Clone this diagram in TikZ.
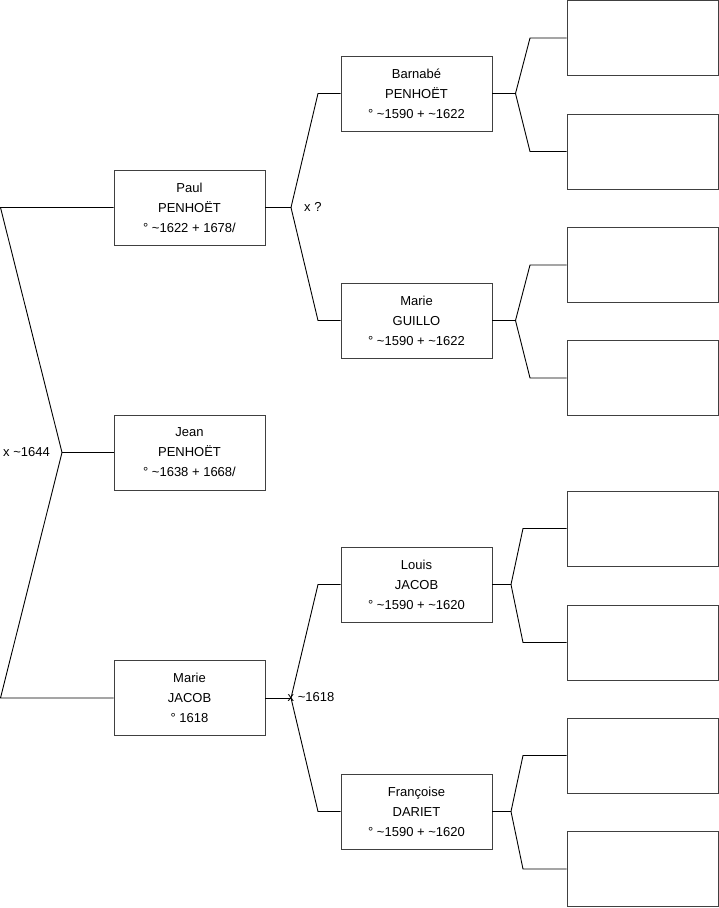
\documentclass[tikz,border=0pt]{standalone}
\usepackage{fontspec}
\setmainfont{Liberation Sans}
\begin{document}
\begin{tikzpicture}[x=1pt,y=-1pt,
  person/.style={draw=black!75,line width=0.9pt,minimum width=151pt,minimum height=75pt,inner sep=0pt,align=center,font=\fontsize{13}{20}\selectfont},
  link/.style={draw=black,line width=0.9pt},
  lbl/.style={font=\fontsize{13}{15}\selectfont,inner sep=0pt,anchor=west}]
\useasboundingbox (0,0) rectangle (719,908);
% generation 1
\node[person] (paul) at (189.5,207.5) {Paul\\PENHOËT\\° \textasciitilde1622 + 1678/};
\node[person] (jean) at (189.5,452.5) {Jean\\PENHOËT\\° \textasciitilde1638 + 1668/};
\node[person] (mariej) at (189.5,698) {Marie\\JACOB\\° 1618};
% generation 2
\node[person] (barnabe) at (416.5,93.5) {Barnabé\\PENHOËT\\° \textasciitilde1590 + \textasciitilde1622};
\node[person] (marieg) at (416.5,320.5) {Marie\\GUILLO\\° \textasciitilde1590 + \textasciitilde1622};
\node[person] (louis) at (416.5,584.5) {Louis\\JACOB\\° \textasciitilde1590 + \textasciitilde1620};
\node[person] (francoise) at (416.5,811.5) {Françoise\\DARIET\\° \textasciitilde1590 + \textasciitilde1620};
% generation 3
\node[person] (g1) at (642.5,38) {};
\node[person] (g2) at (642.5,151.5) {};
\node[person] (g3) at (642.5,265) {};
\node[person] (g4) at (642.5,378) {};
\node[person] (g5) at (642.5,528.5) {};
\node[person] (g6) at (642.5,642.5) {};
\node[person] (g7) at (642.5,755.5) {};
\node[person] (g8) at (642.5,869) {};
% fork coordinates
\coordinate (f0) at (62,452.5);
\coordinate (f0a) at (0.5,207.5);
\coordinate (f0b) at (0.5,698);
\coordinate (fp) at (291,207.5);
\coordinate (fpa) at (318,93.5);
\coordinate (fpb) at (318,320.5);
\coordinate (fm) at (291,698);
\coordinate (fma) at (318,584.5);
\coordinate (fmb) at (318,811.5);
\coordinate (fb) at (515.5,93.5);
\coordinate (fba) at (530,38);
\coordinate (fbb) at (530,151.5);
\coordinate (fg) at (515.5,320.5);
\coordinate (fga) at (530,265);
\coordinate (fgb) at (530,378);
\coordinate (fl) at (511,584.5);
\coordinate (fla) at (523,528.5);
\coordinate (flb) at (523,642.5);
\coordinate (ff) at (511,811.5);
\coordinate (ffa) at (523,755.5);
\coordinate (ffb) at (523,869);
% connectors
\draw[link] (paul.west) -- (f0a) -- (f0) -- (f0b) -- (mariej.west);
\draw[link] (f0) -- (jean.west);
\draw[link] (paul.east) -- (fp);
\draw[link] (barnabe.west) -- (fpa) -- (fp) -- (fpb) -- (marieg.west);
\draw[link] (mariej.east) -- (fm);
\draw[link] (louis.west) -- (fma) -- (fm) -- (fmb) -- (francoise.west);
\draw[link] (barnabe.east) -- (fb);
\draw[link] (g1.west) -- (fba) -- (fb) -- (fbb) -- (g2.west);
\draw[link] (marieg.east) -- (fg);
\draw[link] (g3.west) -- (fga) -- (fg) -- (fgb) -- (g4.west);
\draw[link] (louis.east) -- (fl);
\draw[link] (g5.west) -- (fla) -- (fl) -- (flb) -- (g6.west);
\draw[link] (francoise.east) -- (ff);
\draw[link] (g7.west) -- (ffa) -- (ff) -- (ffb) -- (g8.west);
% labels
\node[lbl] (l0) at (3,452) {x \textasciitilde1644};
\node[lbl] (lp) at (304,206.5) {x ?};
\node[lbl] (lm) at (287.5,697) {x \textasciitilde1618};
\end{tikzpicture}
\end{document}
